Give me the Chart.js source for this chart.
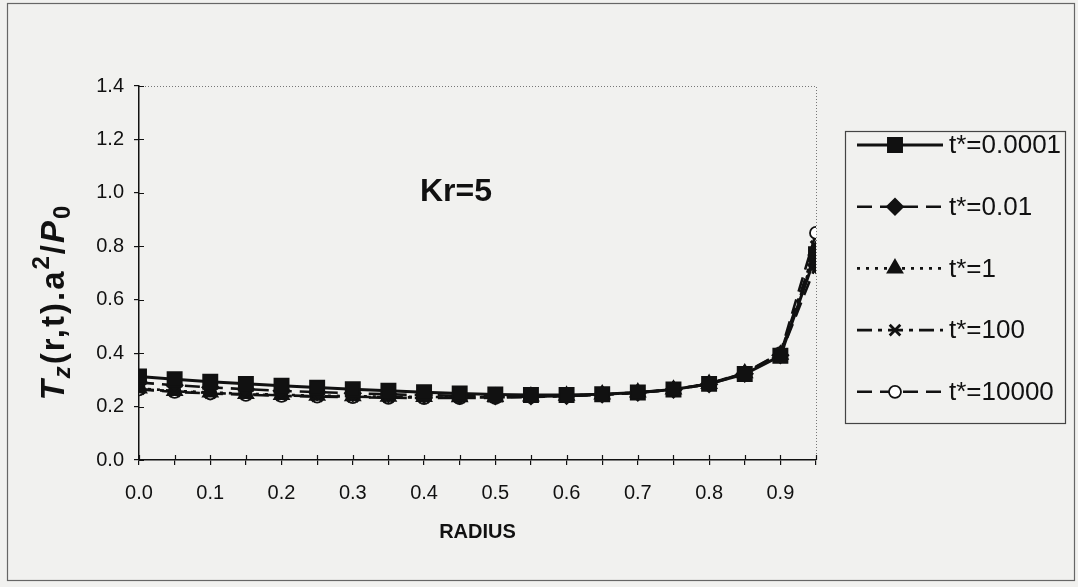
<!DOCTYPE html>
<html>
<head>
<meta charset="utf-8">
<script src="https://cdn.jsdelivr.net/npm/chart.js"></script>
<style>
  html, body { margin: 0; padding: 0; background: #f1f1ef; }
  canvas { display: block; }
</style>
</head>
<body>
<canvas id="c" width="1078" height="587"></canvas>
<script>
// Radial positions (r/a) and the computed axial stress for each dimensionless time
const radius = [0, 0.05, 0.1, 0.15, 0.2, 0.25, 0.3, 0.35, 0.4, 0.45, 0.5, 0.55, 0.6, 0.65, 0.7, 0.75, 0.8, 0.85, 0.9, 0.95];
const seriesNames = ['t*=0.0001', 't*=0.01', 't*=1', 't*=100', 't*=10000'];
const t0001  = [0.313, 0.302, 0.293, 0.285, 0.278, 0.271, 0.265, 0.259, 0.254, 0.249, 0.245, 0.243, 0.243, 0.246, 0.253, 0.264, 0.285, 0.322, 0.390, 0.770];
const t001   = [0.290, 0.280, 0.272, 0.265, 0.259, 0.254, 0.250, 0.246, 0.243, 0.240, 0.239, 0.239, 0.240, 0.245, 0.252, 0.263, 0.284, 0.323, 0.392, 0.730];
const t1     = [0.268, 0.259, 0.253, 0.248, 0.244, 0.241, 0.239, 0.237, 0.236, 0.235, 0.236, 0.238, 0.241, 0.246, 0.253, 0.264, 0.285, 0.325, 0.395, 0.785];
const t100   = [0.266, 0.257, 0.251, 0.246, 0.242, 0.239, 0.237, 0.235, 0.234, 0.234, 0.235, 0.237, 0.240, 0.245, 0.253, 0.264, 0.285, 0.326, 0.398, 0.800];
const t10000 = [0.264, 0.255, 0.249, 0.244, 0.240, 0.237, 0.235, 0.233, 0.232, 0.232, 0.233, 0.236, 0.239, 0.244, 0.252, 0.264, 0.286, 0.327, 0.400, 0.850];
const yTicks = [0, 0.2, 0.4, 0.6, 0.8, 1.0, 1.2, 1.4];

const INK = '#111';
const FAM = '"Liberation Sans", Arial, sans-serif';
const pts = vals => radius.map((r, i) => ({ x: r, y: vals[i] }));

const styles = [
  { data: t0001,  dash: [],            pointStyle: 'rect',     r: 10,  fill: INK,    bw: 3.0 },
  { data: t001,   dash: [15, 8],       pointStyle: 'rectRot',  r: 8,   fill: INK,    bw: 2.6 },
  { data: t1,     dash: [3, 6],        pointStyle: 'triangle', r: 8.5, fill: INK,    bw: 2.6 },
  { data: t100,   dash: [15, 6, 4, 6], pointStyle: 'crossRot', r: 7.5, fill: INK,    bw: 2.6 },
  { data: t10000, dash: [15, 8],       pointStyle: 'circle',   r: 6,   fill: '#fff', bw: 2.6 }
];

const datasets = styles.map((s, i) => ({
  label: seriesNames[i],
  data: pts(s.data),
  borderColor: INK,
  borderWidth: s.bw,
  borderDash: s.dash,
  pointStyle: s.pointStyle,
  pointRadius: s.r,
  pointBorderWidth: s.pointStyle === 'crossRot' ? 2.8 : 1.8,
  pointBackgroundColor: s.fill,
  pointBorderColor: INK,
  tension: 0,
  fill: false
}));

function drawMarker(ctx, ds, x, y) {
  ctx.save();
  ctx.setLineDash([]);
  ctx.fillStyle = ds.pointBackgroundColor;
  ctx.strokeStyle = ds.pointBorderColor;
  ctx.lineWidth = ds.pointBorderWidth;
  Chart.helpers.drawPoint(ctx, { pointStyle: ds.pointStyle, radius: ds.pointRadius, borderWidth: ds.pointBorderWidth, rotation: 0 }, x, y);
  ctx.restore();
}

const decor = {
  id: 'decor',
  beforeDraw(chart) {
    const ctx = chart.ctx;
    ctx.save();
    ctx.fillStyle = '#f1f1ef';
    ctx.fillRect(0, 0, chart.width, chart.height);
    ctx.restore();
  },
  beforeDatasetsDraw(chart) {
    const { ctx, chartArea: a, scales } = chart;
    ctx.save();
    // dotted plot-area frame on top and right
    ctx.strokeStyle = '#777';
    ctx.lineWidth = 1;
    ctx.setLineDash([1, 2]);
    ctx.beginPath();
    ctx.moveTo(a.left, a.top + 0.5);
    ctx.lineTo(a.right + 0.5, a.top + 0.5);
    ctx.lineTo(a.right + 0.5, a.bottom);
    ctx.stroke();
    // inner halves of the crossing tick marks
    ctx.setLineDash([]);
    ctx.strokeStyle = INK;
    ctx.lineWidth = 1.2;
    ctx.beginPath();
    scales.x.ticks.forEach(t => {
      const px = Math.round(scales.x.getPixelForValue(t.value)) + 0.5;
      ctx.moveTo(px, a.bottom);
      ctx.lineTo(px, a.bottom - 5);
    });
    scales.y.ticks.forEach(t => {
      const py = Math.round(scales.y.getPixelForValue(t.value)) + 0.5;
      ctx.moveTo(a.left, py);
      ctx.lineTo(a.left + 5, py);
    });
    ctx.stroke();
    ctx.restore();
  },
  afterDraw(chart) {
    const { ctx, chartArea: a } = chart;
    ctx.save();
    // outer frame
    ctx.strokeStyle = '#666';
    ctx.lineWidth = 1.2;
    ctx.strokeRect(7.5, 3.5, 1067, 577);

    // in-plot annotation
    ctx.fillStyle = INK;
    ctx.font = `bold 32px ${FAM}`;
    ctx.textAlign = 'center';
    ctx.textBaseline = 'middle';
    ctx.fillText('Kr=5', 456, 192);

    // x-axis title
    ctx.font = `bold 20px ${FAM}`;
    ctx.fillText('RADIUS', (a.left + a.right) / 2, 532);

    // y-axis title with sub/superscripts, rotated
    const S = 33, s = 24;
    const parts = [
      { t: 'T',       f: `italic bold ${S}px ${FAM}`, dy: 0 },
      { t: 'z',       f: `italic bold ${s}px ${FAM}`, dy: 8 },
      { t: '(r,t).a', f: `bold ${S}px ${FAM}`,        dy: 0 },
      { t: '2',       f: `bold ${s}px ${FAM}`,        dy: -13 },
      { t: '/',       f: `bold ${S}px ${FAM}`,        dy: 0 },
      { t: 'P',       f: `italic bold ${S}px ${FAM}`, dy: 0 },
      { t: '0',       f: `bold ${s}px ${FAM}`,        dy: 8 }
    ];
    ctx.letterSpacing = '2px';
    let total = 0;
    parts.forEach(p => { ctx.font = p.f; p.w = ctx.measureText(p.t).width; total += p.w; });
    ctx.translate(55, 302);
    ctx.rotate(-Math.PI / 2);
    ctx.textAlign = 'left';
    ctx.textBaseline = 'middle';
    let x = -total / 2;
    parts.forEach(p => { ctx.font = p.f; ctx.fillText(p.t, x, p.dy); x += p.w; });
    ctx.restore();

    // legend box
    ctx.save();
    ctx.fillStyle = '#f1f1ef';
    ctx.fillRect(845, 131, 220, 292);
    ctx.strokeStyle = '#444';
    ctx.lineWidth = 1.2;
    ctx.strokeRect(845.5, 131.5, 220, 292);
    chart.data.datasets.forEach((ds, i) => {
      const y = 145 + i * 61.7;
      ctx.strokeStyle = INK;
      ctx.lineWidth = ds.borderWidth;
      ctx.setLineDash(ds.borderDash);
      ctx.beginPath();
      ctx.moveTo(857, y);
      ctx.lineTo(943, y);
      ctx.stroke();
      drawMarker(ctx, ds, 895, y);
      ctx.fillStyle = INK;
      ctx.font = `26px ${FAM}`;
      ctx.textAlign = 'left';
      ctx.textBaseline = 'middle';
      ctx.fillText(ds.label, 949, y + 1);
    });
    ctx.restore();
  }
};

new Chart(document.getElementById('c'), {
  type: 'line',
  data: { datasets },
  options: {
    responsive: false,
    animation: false,
    devicePixelRatio: 1,
    layout: { padding: { left: 10, right: 262, top: 86, bottom: 37 } },
    plugins: { legend: { display: false }, tooltip: { enabled: false }, title: { display: false } },
    scales: {
      x: {
        type: 'linear',
        min: radius[0],
        max: radius[radius.length - 1],
        afterBuildTicks: sc => { sc.ticks = radius.map(v => ({ value: v })); },
        afterFit: sc => { sc.height = 90; },
        ticks: {
          autoSkip: false,
          maxRotation: 0,
          padding: 16,
          color: INK,
          font: { family: FAM, size: 20 },
          callback: v => (Math.round(v * 100) % 10 === 0 ? v.toFixed(1) : '')
        },
        grid: { drawOnChartArea: false, drawTicks: true, tickLength: 5, color: INK, lineWidth: 1.2 },
        border: { display: true, color: INK, width: 1.5 }
      },
      y: {
        min: yTicks[0],
        max: yTicks[yTicks.length - 1],
        afterBuildTicks: sc => { sc.ticks = yTicks.map(v => ({ value: v })); },
        afterFit: sc => { sc.width = 129; },
        ticks: {
          padding: 10,
          color: INK,
          font: { family: FAM, size: 20 },
          callback: v => v.toFixed(1)
        },
        grid: { drawOnChartArea: false, drawTicks: true, tickLength: 5, color: INK, lineWidth: 1.2 },
        border: { display: true, color: INK, width: 1.5 }
      }
    }
  },
  plugins: [decor]
});
</script>
</body>
</html>
